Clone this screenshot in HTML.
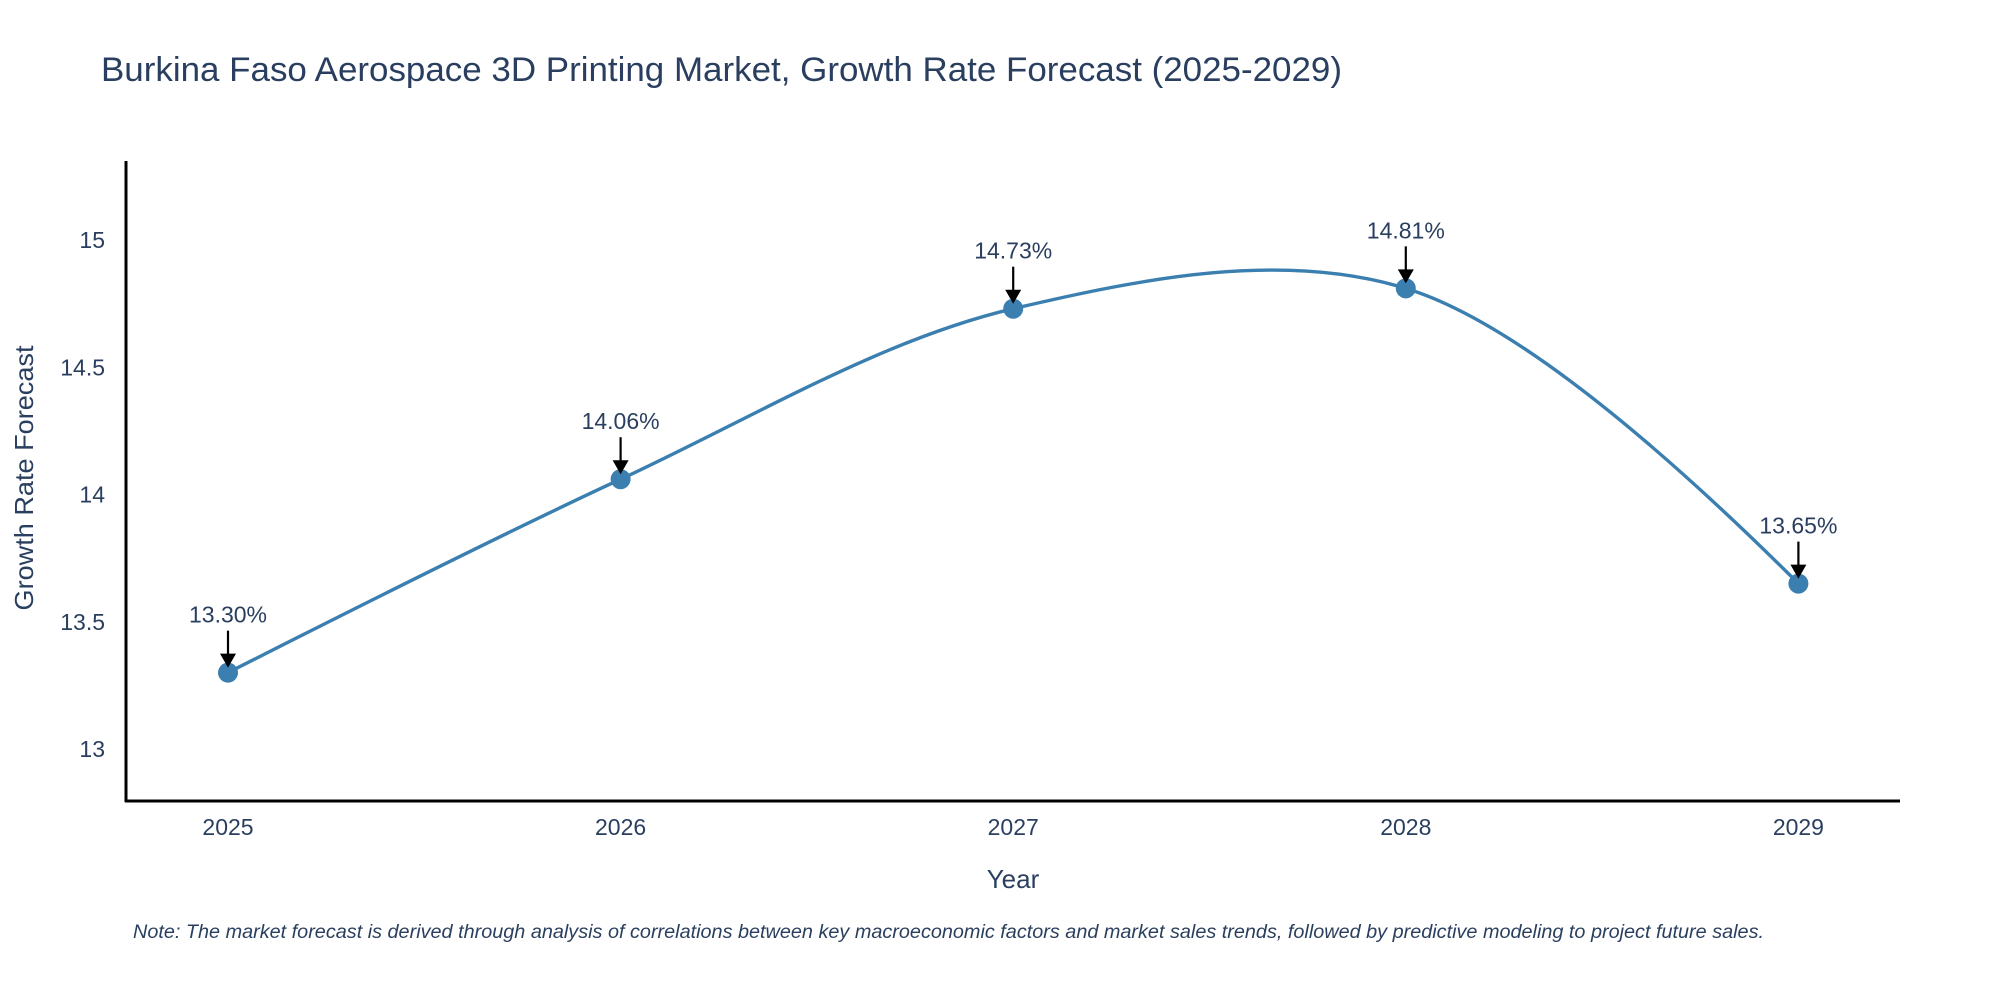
<!DOCTYPE html>
<html><head><meta charset="utf-8"><style>
body{margin:0;background:#fff;}
svg text{font-family:"Liberation Sans",sans-serif;}
</style></head><body>
<svg width="2000" height="1000" xmlns="http://www.w3.org/2000/svg">
<text x="101" y="81" font-size="34" fill="#2a3f5f" textLength="1241" lengthAdjust="spacingAndGlyphs">Burkina Faso Aerospace 3D Printing Market, Growth Rate Forecast (2025-2029)</text>
<g id="yticks"></g>
<g id="xticks"></g>
<line x1="126" y1="161" x2="126" y2="802" stroke="#000" stroke-width="3"/>
<line x1="125" y1="801" x2="1900" y2="801" stroke="#000" stroke-width="3"/>
<text x="1013" y="888" font-size="26" fill="#2a3f5f" text-anchor="middle">Year</text>
<text transform="translate(33,478) rotate(-90)" font-size="26" fill="#2a3f5f" text-anchor="middle" textLength="265" lengthAdjust="spacingAndGlyphs">Growth Rate Forecast</text>
<path id="line" fill="none" stroke="#3b7fb0" stroke-width="3.4"/>
<g id="marks"></g>
<text x="133" y="938" font-size="19" font-style="italic" fill="#2a3f5f" textLength="1631" lengthAdjust="spacingAndGlyphs">Note: The market forecast is derived through analysis of correlations between key macroeconomic factors and market sales trends, followed by predictive modeling to project future sales.</text>
</svg>
<script>
const years = [2025, 2026, 2027, 2028, 2029];
const values = [13.30, 14.06, 14.73, 14.81, 13.65];
const labels = ["13.30%", "14.06%", "14.73%", "14.81%", "13.65%"];
const yTicks = [13, 13.5, 14, 14.5, 15];
const yTickLabels = ["13", "13.5", "14", "14.5", "15"];

const NS = "http://www.w3.org/2000/svg";
function xs(v){ return 228 + (v - 2025) * 392.6; }
function ys(v){ return 749 - (v - 13) * 254.5; }
function mk(tag, attrs, parent){ const e=document.createElementNS(NS,tag); for(const k in attrs) e.setAttribute(k,attrs[k]); parent.appendChild(e); return e; }

const yt=document.getElementById('yticks');
yTicks.forEach((t,i)=>{
  const e=mk('text',{x:105,y:ys(t)+8,'font-size':23,fill:'#2a3f5f','text-anchor':'end'},yt);
  
  
  e.textContent=yTickLabels[i];
});
const xt=document.getElementById('xticks');
years.forEach(y=>{
  const e=mk('text',{x:xs(y),y:835,'font-size':23,fill:'#2a3f5f','text-anchor':'middle'},xt);
  
  
  e.textContent=String(y);
});

const pts=years.map((y,i)=>[xs(y),ys(values[i])]);
function tangent(p,t,n,s){
  const d1x=p[0]-t[0],d1y=p[1]-t[1],d2x=n[0]-t[0],d2y=n[1]-t[1];
  const d1a=Math.pow(d1x*d1x+d1y*d1y,0.25),d2a=Math.pow(d2x*d2x+d2y*d2y,0.25);
  const numx=(d2a*d2a*d1x-d1a*d1a*d2x)*s,numy=(d2a*d2a*d1y-d1a*d1a*d2y)*s;
  const den1=3*d2a*(d1a+d2a),den2=3*d1a*(d1a+d2a);
  return [[t[0]+numx/den1,t[1]+numy/den1],[t[0]-numx/den2,t[1]-numy/den2]];
}
const tg=[];
for(let i=1;i<pts.length-1;i++) tg.push(tangent(pts[i-1],pts[i],pts[i+1],1));
let d='M'+pts[0]+'Q'+tg[0][0]+' '+pts[1];
for(let i=1;i<pts.length-2;i++) d+='C'+tg[i-1][1]+' '+tg[i][0]+' '+pts[i+1];
d+='Q'+tg[tg.length-1][1]+' '+pts[pts.length-1];
document.getElementById('line').setAttribute('d',d);

const g=document.getElementById('marks');
pts.forEach((p,i)=>{
  const c=mk('circle',{cx:p[0],cy:p[1],r:10,fill:'#3b7fb0'},g);
  
  
  const l=mk('line',{x1:p[0],y1:p[1]-42,x2:p[0],y2:p[1]-16,stroke:'#000','stroke-width':2.2},g);
  
  
  const a=mk('polygon',{points:`${p[0]-8},${p[1]-19} ${p[0]+8},${p[1]-19} ${p[0]},${p[1]-5}`,fill:'#000'},g);
  
  
  const t=mk('text',{x:p[0],y:p[1]-50,'font-size':23,fill:'#2a3f5f','text-anchor':'middle'},g);
  
  
  t.textContent=labels[i];
});
</script>
</body></html>
